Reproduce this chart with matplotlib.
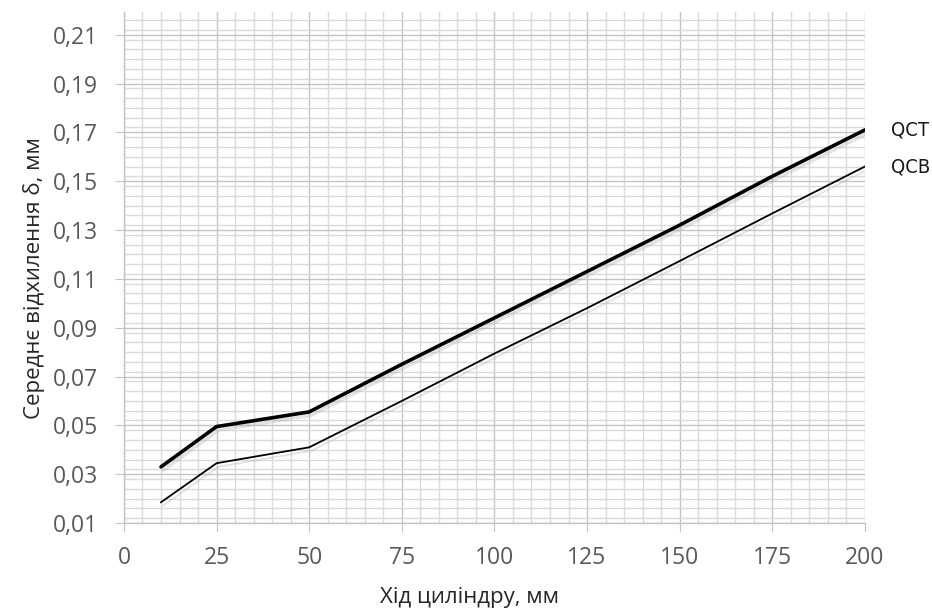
import matplotlib
matplotlib.use('Agg')
import matplotlib.pyplot as plt
import matplotlib.patheffects as pe
from matplotlib.ticker import MultipleLocator, FuncFormatter

# хід циліндру, мм
stroke = [10, 25, 50, 75, 100, 125, 150, 175, 200]
# середнє відхилення, мм
qct = [0.033, 0.0495, 0.0555, 0.075, 0.094, 0.113, 0.132, 0.152, 0.171]
qcb = [0.0185, 0.0345, 0.041, 0.060, 0.0794, 0.098, 0.1173, 0.1368, 0.156]

plt.rcParams['font.family'] = ['Open Sans', 'DejaVu Sans']

fig = plt.figure(figsize=(9.32, 6.11), dpi=100)
ax = fig.add_axes([0.133, 0.144, 0.795, 0.836])

shadow = [pe.SimpleLineShadow(offset=(1.5, -2.5), shadow_color='#b0b0b0', alpha=0.35), pe.Normal()]
ax.plot(stroke, qct, color='black', lw=2.6, solid_capstyle='round', path_effects=shadow, zorder=3)
ax.plot(stroke, qcb, color='black', lw=1.3, path_effects=shadow, zorder=3)

ax.set_xlim(0, 200)
ax.set_ylim(0.01, 0.2192)
ax.xaxis.set_major_locator(MultipleLocator(25))
ax.xaxis.set_minor_locator(MultipleLocator(5))
ax.set_yticks([0.01 + 0.02 * i for i in range(11)])
ax.yaxis.set_minor_locator(MultipleLocator(0.004))
ax.yaxis.set_major_formatter(FuncFormatter(lambda v, p: f'{v:.2f}'.replace('.', ',')))

ax.grid(which='major', color='#c4c4c4', lw=1.0)
ax.grid(which='minor', color='#dadada', lw=1.0)
ax.set_axisbelow(True)

for s in ['top', 'right']:
    ax.spines[s].set_visible(False)
for s in ['left', 'bottom']:
    ax.spines[s].set_color('#c4c4c4')
    ax.spines[s].set_linewidth(1.0)

ax.tick_params(which='major', length=6.5, color='#c4c4c4', labelcolor='#595959',
               labelsize=16.5)
ax.tick_params(axis='y', pad=12)
ax.tick_params(axis='x', pad=10)
ax.tick_params(which='minor', length=0)

ax.set_xlabel('Хід циліндру, мм', fontsize=16, color='#262626')
ax.set_ylabel('Середнє відхилення δ, мм', fontsize=16, color='#262626')
ax.xaxis.set_label_coords(0.467, -0.126)
ax.yaxis.set_label_coords(-0.107, 0.48)

lab_font = dict(family='DejaVu Sans', stretch='condensed', fontsize=14.5, color='#1a1a1a')
ax.annotate('QCT', (stroke[-1], qct[-1]), xytext=(19, 0), textcoords='offset points',
            va='center', annotation_clip=False, **lab_font)
ax.annotate('QCB', (stroke[-1], qcb[-1]), xytext=(19, 0), textcoords='offset points',
            va='center', annotation_clip=False, **lab_font)

fig.savefig('out.png', dpi=100)
